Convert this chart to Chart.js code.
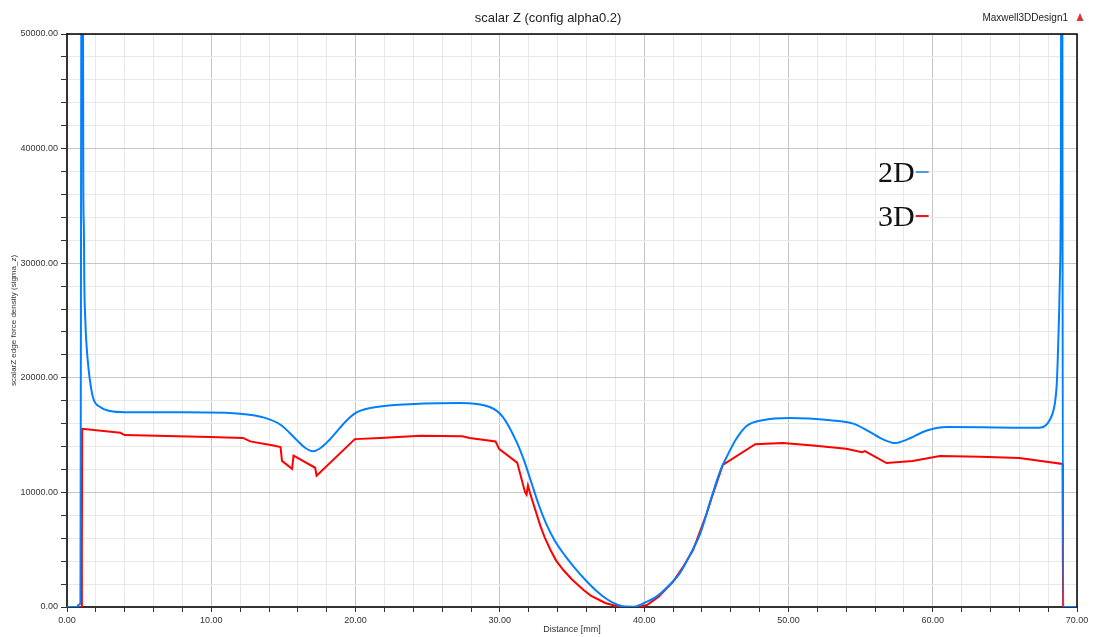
<!DOCTYPE html>
<html>
<head>
<meta charset="utf-8">
<title>scalar Z (config alpha0.2)</title>
<script src="https://cdn.jsdelivr.net/npm/chart.js@4.4.1/dist/chart.umd.min.js"></script>
<style>
  html, body { margin: 0; padding: 0; background: #fff; }
  canvas { display: block; }
</style>
</head>
<body>
<canvas id="grafico" width="1093" height="637"></canvas>
<script>
// Distancia a lo largo de la arista [mm] y densidad de fuerza sigma_z
const distancia2D = [0, 0.7, 0.8, 0.92, 1.05, 1.13, 1.17, 1.2, 1.27, 1.33, 1.5, 1.8, 2.3, 3.0, 4.0, 8.0, 11.0, 12.5, 13.6, 14.8,
  15.9, 16.5, 17.05, 17.6, 18.2, 19.4, 20.1, 21.7, 24.7, 27.2, 29.3, 30.2, 31.2, 31.7, 32.2, 32.7, 33.2, 33.8, 34.5, 35.2,
  35.9, 36.7, 37.4, 38.1, 38.7, 39.3, 40.0, 40.9, 41.7, 42.5, 43.2, 43.9, 44.6, 45.25, 45.8, 46.4, 47.1, 48.2, 50.1, 52.9,
  54.5, 55.6, 56.6, 57.4, 58.2, 59.6, 61.0, 65.6, 67.4, 68.1, 68.47, 68.6, 68.68, 68.81, 68.88, 68.95, 69.03, 70.0];
const sigma2D = [0, 0, 200, 300, 90000, 37000, 33000, 28300, 25000, 23300, 20700, 18300, 17450, 17100, 17000, 17000, 16950, 16800, 16550, 15900,
  14600, 13900, 13600, 13900, 14600, 16300, 17000, 17500, 17750, 17800, 17450, 16600, 14300, 12700, 10800, 8900, 7300, 5800, 4500, 3400,
  2400, 1400, 700, 220, 40, 30, 350, 950, 1850, 3000, 4600, 6450, 9300, 11800, 13300, 14700, 15800, 16300, 16500, 16300,
  16000, 15300, 14600, 14300, 14600, 15400, 15700, 15650, 15650, 16300, 17800, 19500, 22200, 28500, 37200, 90000, 0, 0];

const distancia3D = [0, 1.0, 1.03, 1.05, 3.7, 4.0, 9.9, 12.2, 12.7, 14.3, 14.8, 14.9, 15.6, 15.7, 17.2, 17.3, 19.95, 21.7, 24.5, 27.4,
  27.9, 29.7, 29.96, 31.2, 31.75, 31.85, 31.95, 32.1, 32.5, 32.8, 33.1, 33.5, 33.9, 34.4, 35.0, 35.8, 36.3, 36.9, 37.3, 37.8,
  38.4, 39.6, 40.2, 41.0, 42.0, 42.7, 43.4, 44.35, 44.7, 45.45, 47.7, 49.6, 51.7, 54.0, 55.1, 55.3, 56.8, 58.6, 60.5, 63.3,
  66.0, 69.0, 69.02, 69.04, 70.0];
const sigma3D = [0, 0, 5100, 15550, 15200, 15000, 14830, 14750, 14450, 14100, 13950, 12750, 12050, 13200, 12150, 11450, 14650, 14750, 14950, 14900,
  14750, 14450, 13780, 12600, 10000, 9800, 10600, 9900, 8300, 7100, 6100, 5000, 4050, 3230, 2400, 1480, 1000, 610, 350, 170,
  0, 0, 170, 900, 2200, 3500, 5000, 8200, 9600, 12400, 14200, 14300, 14100, 13800, 13500, 13600, 12560, 12740, 13180, 13100,
  13000, 12480, 4100, 0, 0];

const etiquetasLeyenda = ['2D', '3D'];
const tituloGrafico = 'scalar Z (config alpha0.2)';
const nombreDiseno = 'Maxwell3DDesign1';

const colores = {
  serie2D: 'rgb(0, 128, 255)',
  serie3D: 'rgb(255, 0, 0)',
  guion2D: '#4f9bd6',
  guion3D: '#ea1a22',
  rejillaMayor: '#c6c6c6',
  rejillaMenor: '#e8e8e8',
  eje: '#333333',
  texto: '#333333'
};

const aPuntos = (xs, ys) => xs.map((x, i) => ({ x: x, y: ys[i] }));

// Marco negro, título, nombre del diseño y leyenda dibujada a mano
const decoracion = {
  id: 'decoracion',
  afterDraw(chart) {
    const ctx = chart.ctx;
    const area = chart.chartArea;
    ctx.save();

    ctx.strokeStyle = '#000';
    ctx.lineWidth = 1.5;
    ctx.beginPath();
    ctx.moveTo(area.left, area.top);
    ctx.lineTo(area.right, area.top);
    ctx.lineTo(area.right, area.bottom);
    ctx.stroke();

    ctx.fillStyle = '#222';
    ctx.font = '13px "Liberation Sans", Arial, sans-serif';
    ctx.textAlign = 'center';
    ctx.textBaseline = 'middle';
    ctx.fillText(tituloGrafico, 548, 18);

    ctx.font = '10px "Liberation Sans", Arial, sans-serif';
    ctx.textAlign = 'right';
    ctx.fillText(nombreDiseno, 1068, 18);

    // pequeño triángulo rojo junto al nombre
    ctx.fillStyle = '#e03030';
    ctx.beginPath();
    ctx.moveTo(1080, 13);
    ctx.lineTo(1083.5, 21);
    ctx.lineTo(1076.5, 21);
    ctx.closePath();
    ctx.fill();

    // leyenda
    const filas = [
      { texto: etiquetasLeyenda[0], base: 182, guion: colores.guion2D },
      { texto: etiquetasLeyenda[1], base: 226, guion: colores.guion3D }
    ];
    ctx.font = '30px "Liberation Serif", "Times New Roman", serif';
    ctx.textAlign = 'left';
    ctx.textBaseline = 'alphabetic';
    filas.forEach(f => {
      ctx.fillStyle = '#111';
      ctx.fillText(f.texto, 878, f.base);
      const ancho = ctx.measureText(f.texto).width;
      ctx.strokeStyle = f.guion;
      ctx.lineWidth = 2;
      ctx.beginPath();
      ctx.moveTo(878 + ancho + 1, f.base - 10);
      ctx.lineTo(878 + ancho + 14, f.base - 10);
      ctx.stroke();
    });

    ctx.restore();
  }
};

const colorRejilla = (paso) => (c) => {
  if (!c.tick) return colores.rejillaMenor;
  return Math.abs(c.tick.value % paso) < 1e-6 ? colores.rejillaMayor : colores.rejillaMenor;
};

new Chart(document.getElementById('grafico'), {
  type: 'line',
  data: {
    datasets: [
      {
        label: etiquetasLeyenda[0],
        data: aPuntos(distancia2D, sigma2D),
        borderColor: colores.serie2D,
        borderWidth: 2,
        pointRadius: 0,
        fill: false,
        cubicInterpolationMode: 'monotone'
      },
      {
        label: etiquetasLeyenda[1],
        data: aPuntos(distancia3D, sigma3D),
        borderColor: colores.serie3D,
        borderWidth: 2,
        pointRadius: 0,
        fill: false,
        tension: 0
      }
    ]
  },
  options: {
    responsive: false,
    animation: false,
    devicePixelRatio: 1,
    layout: { padding: { top: 34, right: 16, left: 0, bottom: 0 } },
    plugins: {
      legend: { display: false },
      title: { display: false },
      tooltip: { enabled: false }
    },
    scales: {
      x: {
        type: 'linear',
        min: 0,
        max: 70,
        afterFit(scale) { scale.height = 30; },
        ticks: {
          stepSize: 2,
          autoSkip: false,
          maxRotation: 0,
          padding: 3,
          color: colores.texto,
          font: { family: '"Liberation Sans", Arial, sans-serif', size: 9 },
          callback: v => (Math.abs(v % 10) < 1e-6 ? v.toFixed(2) : '')
        },
        grid: {
          color: colorRejilla(10),
          tickColor: colores.eje,
          tickLength: 5
        },
        border: { color: colores.eje, width: 2 },
        title: {
          display: true,
          text: 'Distance [mm]',
          color: colores.texto,
          font: { family: '"Liberation Sans", Arial, sans-serif', size: 9 },
          padding: { top: 0, bottom: 2 }
        }
      },
      y: {
        min: 0,
        max: 50000,
        afterFit(scale) { scale.width = 67; },
        ticks: {
          stepSize: 2000,
          autoSkip: false,
          padding: 3,
          color: colores.texto,
          font: { family: '"Liberation Sans", Arial, sans-serif', size: 9 },
          callback: v => (Math.abs(v % 10000) < 1e-6 ? v.toFixed(2) : '')
        },
        grid: {
          color: colorRejilla(10000),
          tickColor: colores.eje,
          tickLength: 6
        },
        border: { color: colores.eje, width: 2 },
        title: {
          display: true,
          text: 'scalarZ edge force density (sigma_z)',
          color: colores.texto,
          font: { family: '"Liberation Sans", Arial, sans-serif', size: 8 },
          padding: { top: 9, bottom: 0 }
        }
      }
    }
  },
  plugins: [decoracion]
});
</script>
</body>
</html>
